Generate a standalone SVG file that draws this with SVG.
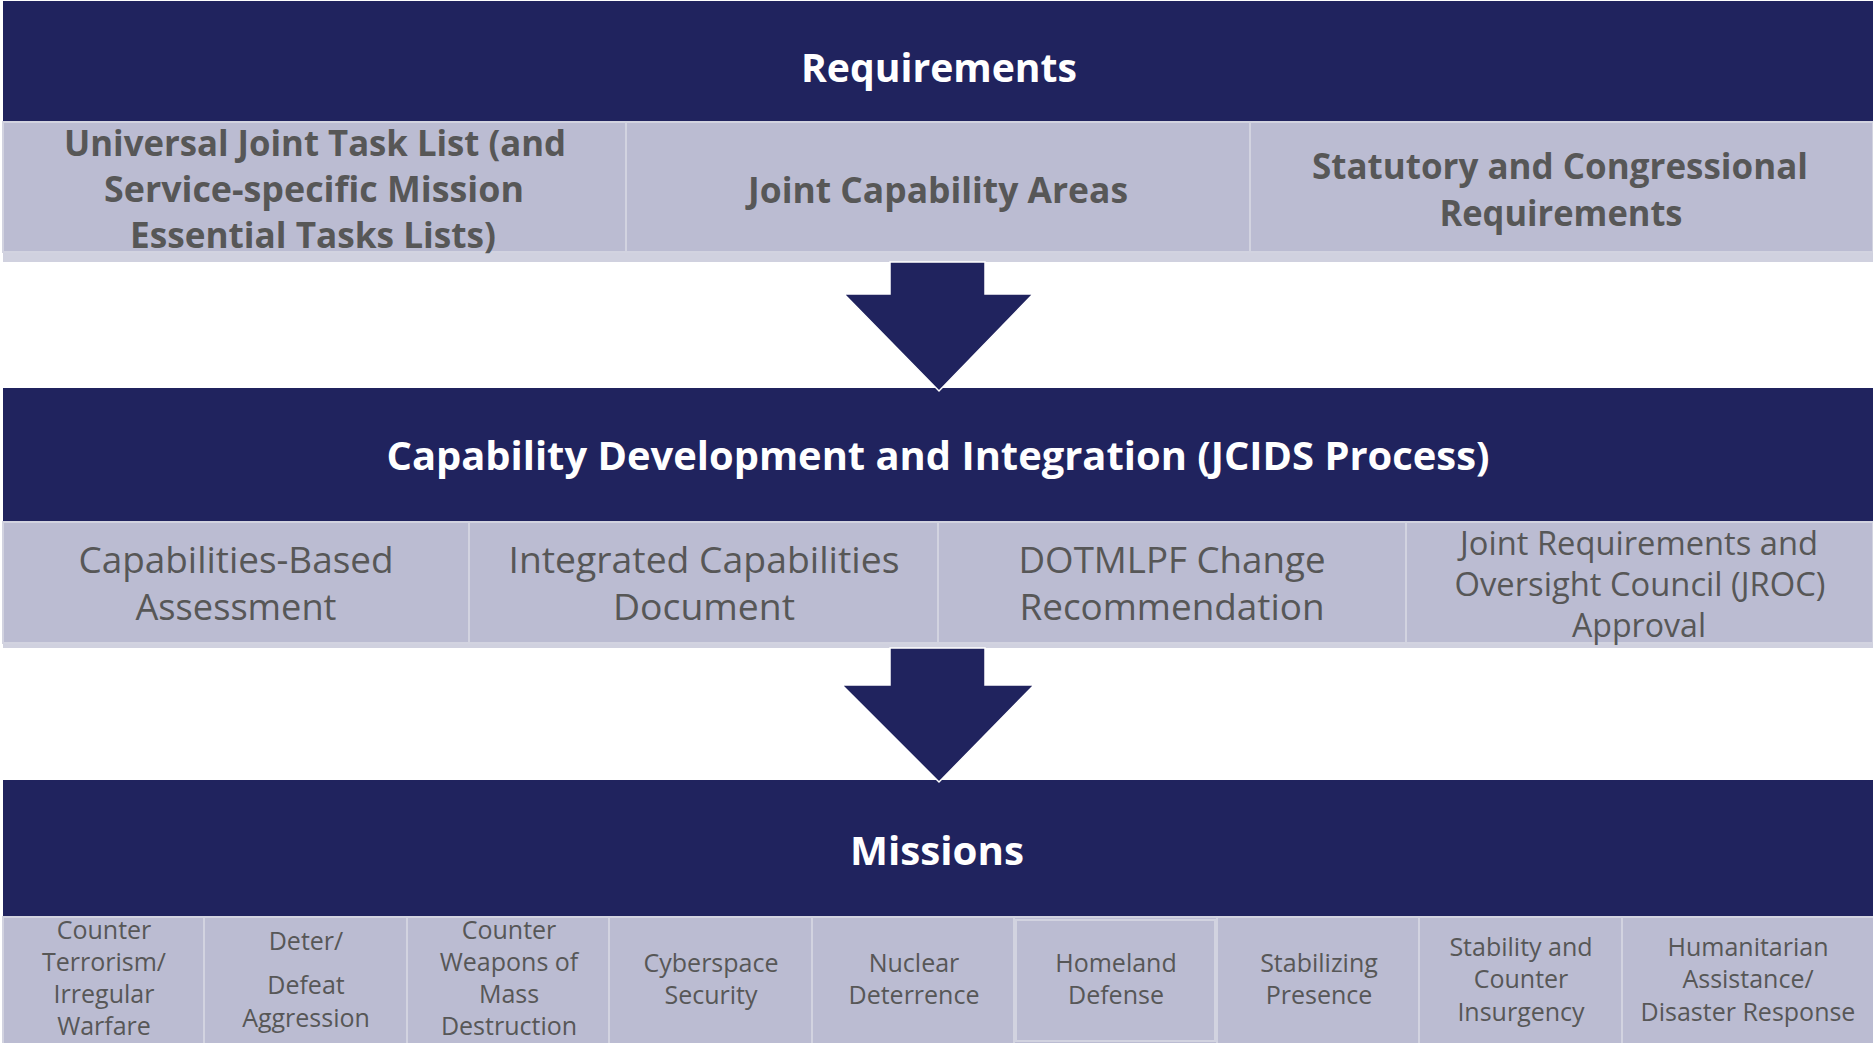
<svg xmlns="http://www.w3.org/2000/svg" width="1873" height="1043" viewBox="0 0 1873 1043">
<style>
.bg{fill:#ffffff}
.bar{fill:#20235E}
.cell{fill:#BBBCD2;stroke:#D2D3E0;stroke-width:2}
.band{fill:#D0D1DF}
.arrow{fill:#20235E;stroke:#ffffff;stroke-width:1.5}
.title{font-family:'Open Sans','Liberation Sans',sans-serif;font-weight:700;font-size:40px;fill:#ffffff;text-anchor:middle}
.t1{font-family:'Open Sans','Liberation Sans',sans-serif;font-weight:700;font-size:35px;fill:#575757;text-anchor:middle}
.t2{font-family:'Open Sans','Liberation Sans',sans-serif;font-weight:400;font-size:37px;fill:#575757;text-anchor:middle}
.t3{font-family:'Open Sans','Liberation Sans',sans-serif;font-weight:400;font-size:32px;fill:#575757;text-anchor:middle}
.t4{font-family:'Open Sans','Liberation Sans',sans-serif;font-weight:400;font-size:25px;fill:#575757;text-anchor:middle}
</style>
<rect class="bg" x="0" y="0" width="1873" height="1043"/>

<g id="requirements">
  <rect class="bar" x="3" y="1" width="1870" height="121"/>
  <text class="title" x="939" y="82" textLength="276" lengthAdjust="spacingAndGlyphs">Requirements</text>
</g>
<rect class="band" x="3" y="252" width="1870" height="10"/>
<g id="ujtl">
  <rect class="cell" x="3" y="122" width="623" height="130"/>
  <text class="t1" x="315" y="156" textLength="502" lengthAdjust="spacingAndGlyphs">Universal Joint Task List (and</text>
  <text class="t1" x="314" y="202" textLength="420" lengthAdjust="spacingAndGlyphs">Service-specific Mission</text>
  <text class="t1" x="313" y="248" textLength="366" lengthAdjust="spacingAndGlyphs">Essential Tasks Lists)</text>
</g>
<g id="jca">
  <rect class="cell" x="626" y="122" width="624" height="130"/>
  <text class="t1" x="938" y="203" textLength="380" lengthAdjust="spacingAndGlyphs">Joint Capability Areas</text>
</g>
<g id="statutory">
  <rect class="cell" x="1250" y="122" width="623" height="130"/>
  <text class="t1" x="1560" y="179" textLength="496" lengthAdjust="spacingAndGlyphs">Statutory and Congressional</text>
  <text class="t1" x="1561" y="226" textLength="243" lengthAdjust="spacingAndGlyphs">Requirements</text>
</g>

<g id="jcids">
  <rect class="bar" x="3" y="388" width="1870" height="134"/>
  <text class="title" x="938" y="470" textLength="1103" lengthAdjust="spacingAndGlyphs">Capability Development and Integration (JCIDS Process)</text>
</g>
<rect class="band" x="3" y="643" width="1870" height="5"/>
<g id="cba">
  <rect class="cell" x="3" y="522" width="466" height="121"/>
  <text class="t2" x="236" y="573" textLength="315" lengthAdjust="spacingAndGlyphs">Capabilities-Based</text>
  <text class="t2" x="236" y="620" textLength="201" lengthAdjust="spacingAndGlyphs">Assessment</text>
</g>
<g id="icd">
  <rect class="cell" x="469" y="522" width="469" height="121"/>
  <text class="t2" x="704" y="573" textLength="391" lengthAdjust="spacingAndGlyphs">Integrated Capabilities</text>
  <text class="t2" x="704" y="620" textLength="182" lengthAdjust="spacingAndGlyphs">Document</text>
</g>
<g id="dotmlpf">
  <rect class="cell" x="938" y="522" width="468" height="121"/>
  <text class="t2" x="1172" y="573" textLength="307" lengthAdjust="spacingAndGlyphs">DOTMLPF Change</text>
  <text class="t2" x="1172" y="620" textLength="305" lengthAdjust="spacingAndGlyphs">Recommendation</text>
</g>
<g id="jroc">
  <rect class="cell" x="1406" y="522" width="467" height="121"/>
  <text class="t3" x="1639" y="555" textLength="358" lengthAdjust="spacingAndGlyphs">Joint Requirements and</text>
  <text class="t3" x="1640" y="596" textLength="371" lengthAdjust="spacingAndGlyphs">Oversight Council (JROC)</text>
  <text class="t3" x="1639" y="637" textLength="134" lengthAdjust="spacingAndGlyphs">Approval</text>
</g>

<g id="missions">
  <rect class="bar" x="3" y="780" width="1870" height="137"/>
  <text class="title" x="937" y="865" textLength="174" lengthAdjust="spacingAndGlyphs">Missions</text>
</g>
<g id="m-ct">
  <rect class="cell" x="3" y="917" width="201" height="128"/>
  <text class="t4" x="104" y="939">Counter</text>
  <text class="t4" x="104" y="971">Terrorism/</text>
  <text class="t4" x="104" y="1003">Irregular</text>
  <text class="t4" x="104" y="1035">Warfare</text>
</g>
<g id="m-deter">
  <rect class="cell" x="204" y="917" width="203" height="128"/>
  <text class="t4" x="306" y="950">Deter/</text>
  <text class="t4" x="306" y="994">Defeat</text>
  <text class="t4" x="306" y="1027">Aggression</text>
</g>
<g id="m-cwmd">
  <rect class="cell" x="407" y="917" width="202" height="128"/>
  <text class="t4" x="509" y="939">Counter</text>
  <text class="t4" x="509" y="971">Weapons of</text>
  <text class="t4" x="509" y="1003">Mass</text>
  <text class="t4" x="509" y="1035">Destruction</text>
</g>
<g id="m-cyber">
  <rect class="cell" x="609" y="917" width="203" height="128"/>
  <text class="t4" x="711" y="972">Cyberspace</text>
  <text class="t4" x="711" y="1004">Security</text>
</g>
<g id="m-nuclear">
  <rect class="cell" x="812" y="917" width="202" height="128"/>
  <text class="t4" x="914" y="972">Nuclear</text>
  <text class="t4" x="914" y="1004">Deterrence</text>
</g>
<g id="m-homeland">
  <rect class="cell" x="1014" y="917" width="203" height="128"/>
  <rect x="1016" y="920" width="199" height="121" fill="none" stroke="#D2D3E0" stroke-width="2"/>
  <text class="t4" x="1116" y="972">Homeland</text>
  <text class="t4" x="1116" y="1004">Defense</text>
</g>
<g id="m-stabilizing">
  <rect class="cell" x="1217" y="917" width="202" height="128"/>
  <text class="t4" x="1319" y="972">Stabilizing</text>
  <text class="t4" x="1319" y="1004">Presence</text>
</g>
<g id="m-stability">
  <rect class="cell" x="1419" y="917" width="203" height="128"/>
  <text class="t4" x="1521" y="956">Stability and</text>
  <text class="t4" x="1521" y="988">Counter</text>
  <text class="t4" x="1521" y="1021">Insurgency</text>
</g>
<g id="m-humanitarian">
  <rect class="cell" x="1622" y="917" width="253" height="128"/>
  <text class="t4" x="1748" y="956">Humanitarian</text>
  <text class="t4" x="1748" y="988">Assistance/</text>
  <text class="t4" x="1748" y="1021">Disaster Response</text>
</g>

<g id="connectors">
  <polygon class="arrow" points="890,262 985,262 985,294 1033,294 939,391 844,294 890,294"/>
  <polygon class="arrow" points="890,648 985,648 985,685 1034,685 939,782 842,685 890,685"/>
</g>
</svg>
